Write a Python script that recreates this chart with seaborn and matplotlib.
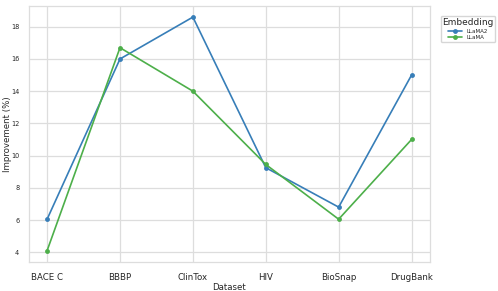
import pandas as pd
import seaborn as sns
import matplotlib.pyplot as plt

datasets = ["BACE C", "BBBP", "ClinTox", "HIV", "BioSnap", "DrugBank"]
llama2 = [6.05, 16.0, 18.6, 9.25, 6.8, 15.0]
llama = [4.1, 16.7, 14.0, 9.45, 6.05, 11.0]

df = pd.DataFrame({
    "Dataset": datasets * 2,
    "Improvement (%)": llama2 + llama,
    "Embedding": ["LLaMA2"] * len(datasets) + ["LLaMA"] * len(datasets),
})

sns.set_theme(style="whitegrid")
plt.rcParams["font.family"] = ["DejaVu Sans"]

fig = plt.figure(figsize=(4.98, 2.91), dpi=100)
ax = fig.add_axes([0.058, 0.1, 0.805, 0.88])
palette = {"LLaMA2": "#377eb8", "LLaMA": "#4daf4a"}
sns.lineplot(data=df, x="Dataset", y="Improvement (%)", hue="Embedding",
             palette=palette, marker="o", markersize=3.5, markeredgewidth=0,
             linewidth=1.2, ax=ax)

ax.set_ylim(3.4, 19.3)
ax.set_yticks([4, 6, 8, 10, 12, 14, 16, 18])
ax.tick_params(axis="y", labelsize=4.7, pad=1)
ax.tick_params(axis="x", labelsize=6.2, pad=2)
ax.set_xlabel("Dataset", fontsize=6.2, labelpad=1)
ax.set_ylabel("Improvement (%)", fontsize=6.2)
ax.yaxis.set_label_coords(-0.042, 0.5)
ax.grid(color="#dddddd", linewidth=0.9)
for s in ax.spines.values():
    s.set_color("#dddddd")
    s.set_linewidth(0.9)

leg = ax.legend(title="Embedding", loc="upper left", bbox_to_anchor=(1.02, 0.97),
                fontsize=4, title_fontsize=6.5, frameon=True, borderpad=0.3,
                handlelength=2.5, labelspacing=0.3)
leg.get_frame().set_edgecolor("#cccccc")

fig.savefig("out.png", dpi=100)
